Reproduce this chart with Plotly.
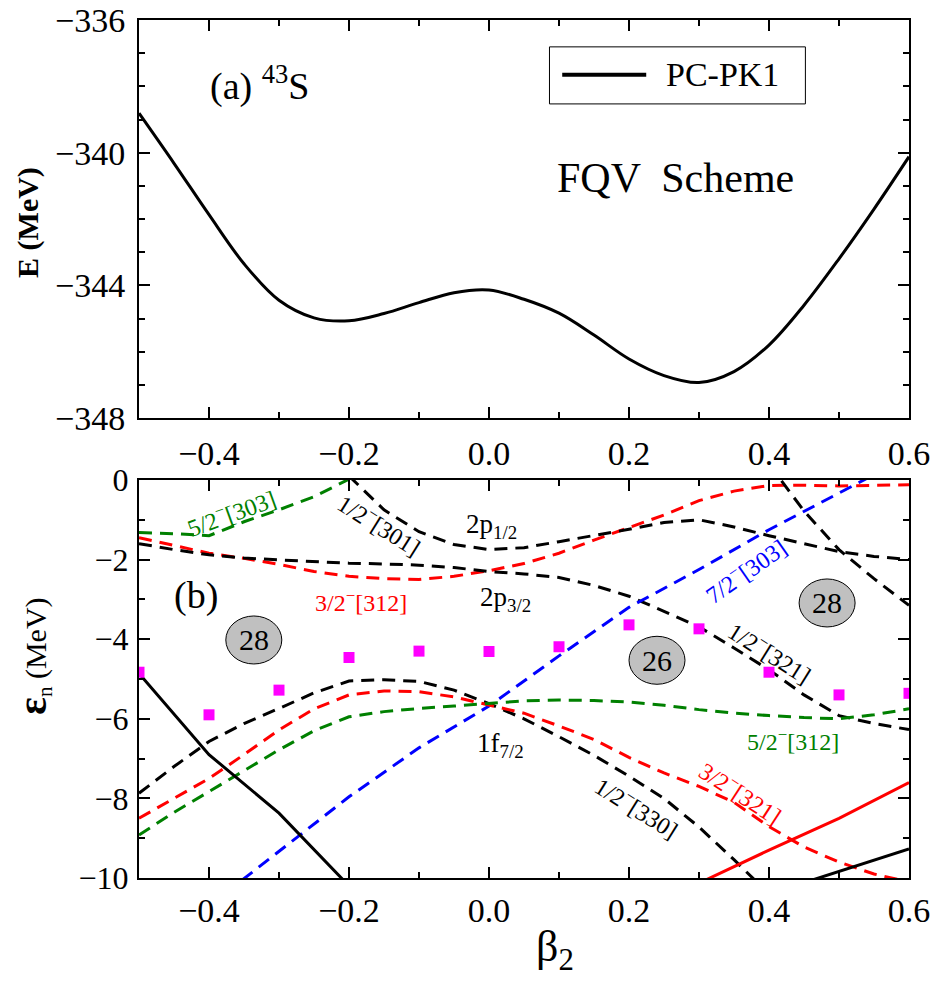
import plotly.graph_objects as go

# (a) binding energy curve of 43S, PC-PK1
beta_a = [-0.5, -0.45, -0.4, -0.35, -0.3, -0.25, -0.2, -0.15, -0.1, -0.05, 0.0, 0.05,
          0.1, 0.15, 0.2, 0.25, 0.3, 0.35, 0.4, 0.45, 0.5, 0.55, 0.6]
energy = [-338.81, -340.32, -341.87, -343.35, -344.45, -344.98, -345.07, -344.85, -344.52, -344.22,
          -344.14, -344.42, -344.84, -345.5, -346.22, -346.72, -346.93, -346.6, -345.8, -344.6,
          -343.2, -341.7, -340.12]

# (b) neutron single particle levels
beta_full = [-0.5, -0.45, -0.4, -0.35, -0.3, -0.25, -0.2, -0.15, -0.1, -0.05, 0.0, 0.05,
             0.1, 0.15, 0.2, 0.25, 0.3, 0.35, 0.4, 0.45, 0.5, 0.55, 0.6]

beta_g303 = [-0.5, -0.45, -0.4, -0.35, -0.3, -0.25, -0.2]
e_g303 = [-1.32, -1.35, -1.40, -1.05, -0.75, -0.42, 0.02]

e_r312 = [-1.45, -1.65, -1.84, -1.97, -2.12, -2.3, -2.42, -2.48, -2.5, -2.42, -2.28, -2.1,
          -1.84, -1.51, -1.19, -0.88, -0.52, -0.28, -0.14, -0.13, -0.15, -0.13, -0.12]

e_k321 = [-1.6, -1.75, -1.88, -1.96, -2.01, -2.05, -2.09, -2.11, -2.14, -2.2, -2.3, -2.36,
          -2.45, -2.65, -2.92, -3.3, -3.69, -4.22, -4.77, -5.4, -5.92, -6.12, -6.27]

beta_k301 = [-0.2, -0.15, -0.1, -0.05, 0.0, 0.05, 0.1, 0.15, 0.2, 0.25, 0.3, 0.35, 0.4,
             0.45, 0.5, 0.55, 0.6]
e_k301 = [0.1, -0.75, -1.3, -1.62, -1.75, -1.7, -1.55, -1.4, -1.24, -1.07, -1.0, -1.18,
          -1.4, -1.6, -1.8, -1.92, -2.0]

beta_k_steep = [0.4, 0.45, 0.5, 0.55, 0.6]
e_k_steep = [0.4, -0.78, -1.75, -2.48, -3.15]

beta_b303 = [-0.4, -0.3, -0.2, -0.1, 0.0, 0.1, 0.2, 0.3, 0.4, 0.5, 0.6]
e_b303 = [-10.7, -9.33, -7.96, -6.73, -5.68, -4.42, -3.2, -2.25, -1.25, -0.33, 0.6]

beta_k330 = beta_full[:19]
e_k330 = [-7.87, -7.2, -6.57, -6.12, -5.74, -5.35, -5.05, -5.02, -5.06, -5.28, -5.62, -6.0,
          -6.45, -6.92, -7.44, -8.0, -8.72, -9.54, -10.4]

e_r321 = [-8.5, -8.0, -7.5, -6.9, -6.28, -5.75, -5.4, -5.3, -5.32, -5.45, -5.65, -5.86,
          -6.18, -6.52, -6.97, -7.36, -7.7, -8.1, -8.71, -9.22, -9.6, -9.9, -10.1]

e_g312 = [-8.92, -8.35, -7.83, -7.3, -6.78, -6.3, -5.95, -5.82, -5.74, -5.68, -5.61, -5.55,
          -5.53, -5.54, -5.58, -5.66, -5.77, -5.86, -5.92, -5.97, -6.0, -5.9, -5.75]

beta_solid_k1 = [-0.5, -0.4, -0.3, -0.2]
e_solid_k1 = [-4.86, -6.9, -8.37, -10.2]
beta_solid_r = [0.3, 0.4, 0.5, 0.6]
e_solid_r = [-10.13, -9.3, -8.5, -7.6]
beta_solid_k2 = [0.4, 0.5, 0.6]
e_solid_k2 = [-10.4, -9.83, -9.27]

# fermi level
beta_fermi = [-0.5, -0.4, -0.3, -0.2, -0.1, 0.0, 0.1, 0.2, 0.3, 0.4, 0.5, 0.6]
e_fermi = [-4.83, -5.9, -5.28, -4.46, -4.3, -4.31, -4.19, -3.64, -3.74, -4.83, -5.4, -5.36]

# shell gaps
gap_beta = [-0.336, 0.24, 0.483]
gap_e = [-4.02, -4.53, -3.09]
gap_text = ["28", "26", "28"]

GREEN = "#008000"
FONT = "Liberation Serif"
dash = "13px,8px"

fig = go.Figure()
fig.add_scatter(x=beta_a, y=energy, mode="lines", line=dict(color="black", width=3, shape="spline"),
                xaxis="x", yaxis="y", showlegend=False)

dashed = [
    (beta_g303, e_g303, GREEN),
    (beta_full, e_r312, "red"),
    (beta_full, e_k321, "black"),
    (beta_k301, e_k301, "black"),
    (beta_k_steep, e_k_steep, "black"),
    (beta_b303, e_b303, "blue"),
    (beta_k330, e_k330, "black"),
    (beta_full, e_r321, "red"),
    (beta_full, e_g312, GREEN),
]
for bx, by, c in dashed:
    fig.add_scatter(x=bx, y=by, mode="lines", line=dict(color=c, width=3, dash=dash),
                    xaxis="x2", yaxis="y2", showlegend=False)

for bx, by, c in [(beta_solid_k1, e_solid_k1, "black"), (beta_solid_r, e_solid_r, "red"),
                  (beta_solid_k2, e_solid_k2, "black")]:
    fig.add_scatter(x=bx, y=by, mode="lines", line=dict(color=c, width=3),
                    xaxis="x2", yaxis="y2", showlegend=False)

fig.add_scatter(x=beta_fermi, y=e_fermi, mode="markers",
                marker=dict(symbol="square", size=11, color="#FF00FF"),
                xaxis="x2", yaxis="y2", showlegend=False)

# ellipses round the magic numbers
shapes = []
for b, e in zip(gap_beta, gap_e):
    shapes.append(dict(type="circle", xref="x2", yref="y2", xsizemode="pixel", ysizemode="pixel",
                       xanchor=b, yanchor=e, x0=-28, x1=28, y0=-24, y1=24,
                       fillcolor="#c0c0c0", line=dict(color="black", width=1), layer="below"))

# hand drawn legend box for panel (a)
shapes.append(dict(type="rect", xref="x", yref="y", x0=0.0864, x1=0.452, y0=-338.53, y1=-336.81,
                   line=dict(color="black", width=1), fillcolor="white"))
shapes.append(dict(type="line", xref="x", yref="y", x0=0.1046, x1=0.2246, y0=-337.65, y1=-337.65,
                   line=dict(color="black", width=4)))

ann = []
def txt(x, y, s, size=24, color="black", angle=0, ref="2", xanchor="center"):
    ann.append(dict(x=x, y=y, xref="x" + ref, yref="y" + ref, text=s, showarrow=False,
                    font=dict(family=FONT, size=size, color=color), textangle=angle, xanchor=xanchor))

txt(0.2507, -337.65, "PC-PK1", size=34, ref="", xanchor="left")
txt(-0.328, -337.9, "(a) <sup>43</sup>S", size=38, ref="")
txt(0.267, -340.75, "FQV  Scheme", size=42, ref="")

for b, e, s in zip(gap_beta, gap_e, gap_text):
    txt(b, e, s, size=30)

txt(-0.418, -2.9, "(b)", size=38)
txt(-0.368, -0.8, "5/2<sup>−</sup>[303]", color=GREEN, angle=-20)
txt(-0.156, -1.1, "1/2<sup>−</sup>[301]", angle=32)
txt(0.003, -1.16, "2p<sub>1/2</sub>", size=27)
txt(-0.183, -3.04, "3/2<sup>−</sup>[312]", color="red")
txt(0.023, -3.0, "2p<sub>3/2</sub>", size=27)
txt(0.366, -2.26, "7/2<sup>−</sup>[303]", color="blue", angle=-35)
txt(0.402, -4.33, "1/2<sup>−</sup>[321]", angle=32)
txt(0.016, -6.66, "1f<sub>7/2</sub>", size=27)
txt(0.434, -6.53, "5/2<sup>−</sup>[312]", color=GREEN)
txt(0.36, -7.84, "3/2<sup>−</sup>[321]", color="red", angle=33)
txt(0.212, -8.22, "1/2<sup>−</sup>[330]", angle=32)

# axis titles
ann.append(dict(x=-0.1442, y=0.7646, xref="paper", yref="paper", text="<b>E (MeV)</b>", showarrow=False,
                xanchor="center", yanchor="middle", textangle=-90,
                font=dict(family=FONT, size=30, color="black")))
ann.append(dict(x=-0.1377, y=0.2587, xref="paper", yref="paper",
                text="<b><span style='font-size:42px'>ε</span></b><sub>n</sub> (MeV)", showarrow=False,
                xanchor="center", yanchor="middle", textangle=-90,
                font=dict(family=FONT, size=30, color="black")))
ann.append(dict(x=0.54, y=-0.0839, xref="paper", yref="paper", text="β<sub>2</sub>", showarrow=False,
                xanchor="center", yanchor="middle", font=dict(family=FONT, size=44, color="black")))

axis_common = dict(showline=True, linecolor="black", linewidth=2, mirror="allticks", ticks="inside",
                   ticklen=11, tickwidth=2, tickcolor="black", showgrid=False, zeroline=False,
                   automargin=False, ticklabeloverflow="allow",
                   tickfont=dict(family=FONT, size=34, color="black"))

# page body has an 8px margin, so the figure is a bit smaller than the window
fig.update_layout(
    width=926, height=974,
    margin=dict(l=131, r=25, t=12, b=104),
    plot_bgcolor="white", paper_bgcolor="white",
    xaxis=dict(domain=[0, 1], anchor="y", range=[-0.5, 0.6], dtick=0.2, tick0=0, tickformat=".1f",
               minor=dict(dtick=0.1, ticks="inside", ticklen=6, tickcolor="black"),
               ticklabelstandoff=4, **axis_common),
    yaxis=dict(domain=[0.5361, 1], anchor="x", range=[-348, -336], dtick=4, tick0=-348,
               minor=dict(dtick=1, ticks="inside", ticklen=6, tickcolor="black"),
               ticklabelstandoff=5, **axis_common),
    xaxis2=dict(domain=[0, 1], anchor="y2", range=[-0.5, 0.6], dtick=0.2, tick0=0, tickformat=".1f",
                minor=dict(dtick=0.1, ticks="inside", ticklen=6, tickcolor="black"),
                ticklabelstandoff=1, **axis_common),
    yaxis2=dict(domain=[0, 0.4639], anchor="x2", range=[-10, 0], dtick=2, tick0=0,
                minor=dict(dtick=1, ticks="inside", ticklen=6, tickcolor="black"),
                ticklabelstandoff=2, **axis_common),
    shapes=shapes,
    annotations=ann,
)
fig.update_yaxes(tickfont=dict(size=32), selector=dict(anchor="x2"))

fig.write_html("out.html")
